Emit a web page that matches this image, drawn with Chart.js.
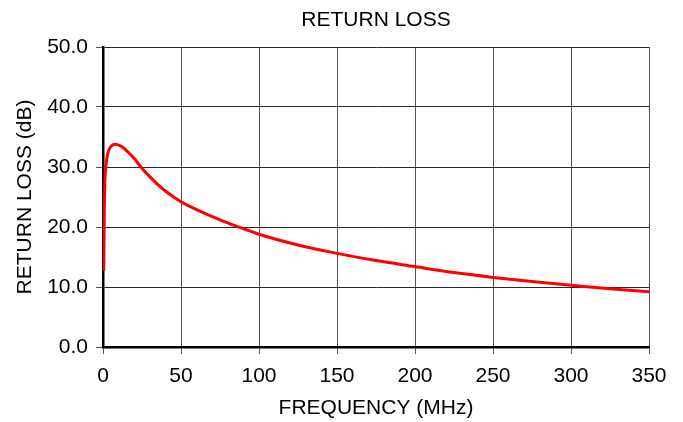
<!DOCTYPE html>
<html>
<head>
<meta charset="utf-8">
<script src="https://cdn.jsdelivr.net/npm/chart.js@4"></script>
<style>
  html, body { margin: 0; padding: 0; background: #fff; }
  #wrap { width: 683px; height: 422px; }
</style>
</head>
<body>
<div id="wrap"><canvas id="rl-chart-canvas"></canvas></div>
<script>
// values
const freqMHz = [0.5, 0.8, 1.2, 2, 3, 5, 8, 12, 16, 20, 25, 30, 35, 40, 50, 60, 75, 85, 100, 125, 150, 175, 200, 225, 250, 275, 300, 325, 350];
const returnLossDb = [12.7, 22, 27.5, 30.5, 32.2, 33.4, 33.8, 33.4, 32.5, 31.4, 29.8, 28.4, 27.1, 26.0, 24.2, 22.9, 21.2, 20.2, 18.8, 17.0, 15.6, 14.4, 13.4, 12.4, 11.6, 10.9, 10.3, 9.7, 9.2];
const xTicks = [0, 50, 100, 150, 200, 250, 300, 350];
const yTicks = [0, 10, 20, 30, 40, 50];
const chartTitle = 'RETURN LOSS';

const font = { family: '"Liberation Sans", Arial, sans-serif', size: 21 };

const points = freqMHz.map((f, i) => ({ x: f, y: returnLossDb[i] }));

// title is centred over the plot area, not the whole canvas
const plotTitle = {
    id: 'plotTitle',
    afterDraw(chart) {
        const { ctx, chartArea } = chart;
        ctx.save();
        ctx.fillStyle = '#000';
        ctx.font = `${font.size}px ${font.family}`;
        ctx.textAlign = 'center';
        ctx.textBaseline = 'middle';
        ctx.fillText(chartTitle, (chartArea.left + chartArea.right) / 2, 20);
        ctx.restore();
    }
};

new Chart(document.getElementById('rl-chart-canvas'), {
    type: 'line',
    data: {
        datasets: [
            {
                label: 'Return Loss',
                data: points,
                borderColor: '#ff0000',
                borderWidth: 3,
                pointRadius: 0,
                fill: false,
                cubicInterpolationMode: 'monotone'
            }
        ]
    },
    options: {
        responsive: true,
        maintainAspectRatio: false,
        animation: false,
        layout: { padding: { top: 47, left: 0, right: 34, bottom: 0 } },
        plugins: {
            legend: { display: false },
            tooltip: { enabled: false },
            title: { display: false }
        },
        scales: {
            x: {
                type: 'linear',
                min: xTicks[0],
                max: xTicks[xTicks.length - 1],
                afterBuildTicks: (axis) => { axis.ticks = xTicks.map(v => ({ value: v })); },
                afterFit: (axis) => { axis.height = 75; },
                border: { color: '#000', width: 2.5 },
                grid: { color: '#555', lineWidth: 1, tickLength: 7, tickColor: '#555' },
                ticks: { color: '#000', font: font, padding: 10, maxRotation: 0 },
                title: {
                    display: true,
                    text: 'FREQUENCY (MHz)',
                    color: '#000',
                    font: font,
                    padding: { top: 0, bottom: 1 }
                }
            },
            y: {
                min: yTicks[0],
                max: yTicks[yTicks.length - 1],
                afterBuildTicks: (axis) => { axis.ticks = yTicks.map(v => ({ value: v })); },
                afterFit: (axis) => { axis.width = 103; },
                border: { color: '#000', width: 2.5 },
                grid: { color: '#2a2a2a', lineWidth: 1, tickLength: 7, tickColor: '#555' },
                ticks: {
                    color: '#000',
                    font: font,
                    padding: 8,
                    callback: (v) => Number(v).toFixed(1)
                },
                title: {
                    display: true,
                    text: 'RETURN LOSS (dB)',
                    color: '#000',
                    font: font,
                    padding: { top: 13, bottom: 0 }
                }
            }
        }
    },
    plugins: [plotTitle]
});
</script>
</body>
</html>
